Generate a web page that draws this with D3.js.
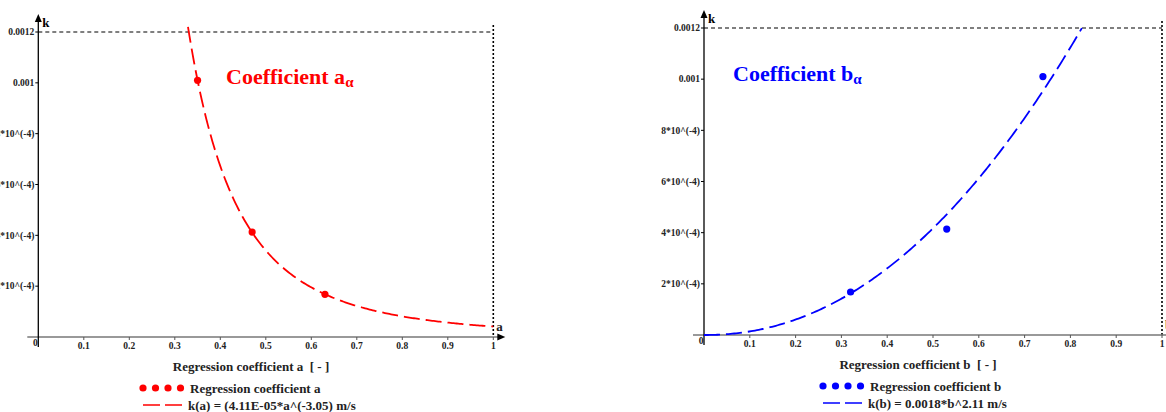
<!DOCTYPE html>
<html>
<head>
<meta charset="utf-8">
<script src="https://cdn.jsdelivr.net/npm/d3@7"></script>
<style>
  html, body { margin: 0; padding: 0; background: #fff; }
  svg { display: block; }
  text { font-family: "Liberation Serif", "Times New Roman", serif; font-weight: bold; white-space: pre; }
</style>
</head>
<body>
<svg id="chart" width="1166" height="412"></svg>
<script>
// Measured permeability k against the regression coefficients a and b
const aValues = [0.35, 0.47, 0.63];
const bValues = [0.32, 0.53, 0.74];
const kValues = [0.00101, 0.000413, 0.000168];
const kValuesB = [0.000168, 0.000414, 0.00101];

// Power-law fits quoted in the legends
const fitA = { coef: 4.11e-5, exp: -3.05 };
const fitB = { coef: 0.0018, exp: 2.11 };

const xTicks = [0.1, 0.2, 0.3, 0.4, 0.5, 0.6, 0.7, 0.8, 0.9, 1];
const xTickLabels = ["0.1", "0.2", "0.3", "0.4", "0.5", "0.6", "0.7", "0.8", "0.9", "1"];
const yTicks = [0.0002, 0.0004, 0.0006, 0.0008, 0.001, 0.0012];
const yTickLabels = ["2*10^(-4)", "4*10^(-4)", "6*10^(-4)", "8*10^(-4)", "0.001", "0.0012"];

const svg = d3.select("#chart");

function drawPanel(p) {
  const x = d3.scaleLinear().domain([0, 1]).range([p.left, p.right]);
  const y = d3.scaleLinear().domain([0, 0.0012]).range([p.bottom, p.top]);
  const g = svg.append("g");

  // reference frame at k = 0.0012 and x = 1
  g.append("line")
    .attr("x1", x(0)).attr("x2", x(1)).attr("y1", y(0.0012)).attr("y2", y(0.0012))
    .attr("stroke", "#000").attr("stroke-width", 1.2).attr("stroke-dasharray", "4,3");
  g.append("line")
    .attr("x1", x(1)).attr("x2", x(1)).attr("y1", y(0.0012) - 7).attr("y2", y(0))
    .attr("stroke", "#000").attr("stroke-width", 1.6).attr("stroke-dasharray", "2,2");

  // x axis (grey) with arrow
  g.append("line")
    .attr("x1", x(0) - 11).attr("x2", x(1) + 6).attr("y1", y(0)).attr("y2", y(0))
    .attr("stroke", "#777").attr("stroke-width", 1.5);
  g.append("path")
    .attr("d", `M${x(1) + 12},${y(0)} L${x(1) + 4},${y(0) - 3.5} L${x(1) + 4},${y(0) + 3.5} Z`)
    .attr("fill", "#000");
  g.selectAll(".xt").data(xTicks).enter().append("line")
    .attr("x1", d => x(d)).attr("x2", d => x(d))
    .attr("y1", y(0)).attr("y2", y(0) + 3)
    .attr("stroke", "#555").attr("stroke-width", 1);
  g.selectAll(".xl").data(xTicks).enter().append("text")
    .attr("x", d => x(d)).attr("y", y(0) + 12)
    .attr("text-anchor", "middle").attr("font-size", 9.5).attr("fill", "#222")
    .text((d, i) => xTickLabels[i]);
  g.append("text").attr("x", x(0) - 3).attr("y", y(0) + 9)
    .attr("text-anchor", "middle").attr("font-size", 9.5).attr("fill", "#222").text("0");
  g.append("text").attr("x", x(1) + 3).attr("y", y(0) - 6)
    .attr("font-size", 13).attr("fill", "#222").text(p.xName);

  // y axis (black) with arrow
  g.append("line")
    .attr("x1", x(0)).attr("x2", x(0)).attr("y1", y(0) + 10).attr("y2", y(0.0012) - 12)
    .attr("stroke", "#000").attr("stroke-width", 1.3);
  g.append("path")
    .attr("d", `M${x(0)},${y(0.0012) - 18} L${x(0) - 3.5},${y(0.0012) - 10} L${x(0) + 3.5},${y(0.0012) - 10} Z`)
    .attr("fill", "#000");
  g.selectAll(".yt").data(yTicks).enter().append("line")
    .attr("x1", x(0) - 3).attr("x2", x(0))
    .attr("y1", d => y(d)).attr("y2", d => y(d))
    .attr("stroke", "#000").attr("stroke-width", 1);
  g.selectAll(".yl").data(yTicks).enter().append("text")
    .attr("x", x(0) - 4).attr("y", d => y(d) + 3.3)
    .attr("text-anchor", "end").attr("font-size", 9.5).attr("fill", "#222")
    .text((d, i) => yTickLabels[i]);
  g.append("text").attr("x", x(0) + 4).attr("y", y(0.0012) - 5)
    .attr("font-size", 13).attr("fill", "#000").text("k");

  // fitted curve
  const curvePts = d3.range(p.xFrom, p.xTo + 1e-9, (p.xTo - p.xFrom) / 200)
    .map(v => [v, p.fit.coef * Math.pow(v, p.fit.exp)]);
  g.append("path")
    .datum(curvePts)
    .attr("d", d3.line().x(d => x(d[0])).y(d => y(d[1])))
    .attr("fill", "none").attr("stroke", p.color).attr("stroke-width", 1.8)
    .attr("stroke-dasharray", "16,6");

  // measured points
  g.selectAll(".pt").data(p.xs).enter().append("circle")
    .attr("cx", d => x(d)).attr("cy", (d, i) => y(p.ks[i]))
    .attr("r", 3.6).attr("fill", p.color);

  // panel title
  const t = g.append("text").attr("x", p.titleX).attr("y", p.titleY)
    .attr("font-size", 22).attr("fill", p.color);
  t.append("tspan").text(p.title);
  t.append("tspan").attr("font-size", 15).attr("dy", 3).text("\u03b1");

  // axis title
  g.append("text").attr("x", p.axisTitleX).attr("y", p.axisTitleY)
    .attr("text-anchor", "middle").attr("font-size", 13).attr("fill", "#222")
    .text(p.axisTitle);

  // legend
  const lx = p.legendX, ly = p.legendY;
  g.selectAll(".ld").data([0, 1, 2, 3]).enter().append("circle")
    .attr("cx", d => lx + d * 12.5).attr("cy", ly).attr("r", 3.6).attr("fill", p.color);
  g.append("text").attr("x", lx + 47).attr("y", ly + 4.5)
    .attr("font-size", 13).attr("fill", "#222").text(p.legend1);
  g.append("line")
    .attr("x1", lx).attr("x2", lx + 39).attr("y1", ly + 17).attr("y2", ly + 17)
    .attr("stroke", p.color).attr("stroke-width", 1.5).attr("stroke-dasharray", "17,5");
  g.append("text").attr("x", lx + 45).attr("y", ly + 21.5)
    .attr("font-size", 13).attr("fill", "#222").text(p.legend2);
}

drawPanel({
  left: 38.3, right: 493.3, top: 32, bottom: 337,
  xs: aValues, ks: kValues, fit: fitA, xFrom: 0.329, xTo: 1,
  color: "#ff0000", xName: "a",
  title: "Coefficient a", titleX: 226, titleY: 84,
  axisTitle: "Regression coefficient a  [ - ]", axisTitleX: 251, axisTitleY: 371,
  legendX: 143, legendY: 388,
  legend1: "Regression coefficient a",
  legend2: "k(a) = (4.11E-05*a^(-3.05) m/s"
});

drawPanel({
  left: 704, right: 1162, top: 28, bottom: 335,
  xs: bValues, ks: kValuesB, fit: fitB, xFrom: 0, xTo: 0.825,
  color: "#0000ff", xName: "b",
  title: "Coefficient b", titleX: 733, titleY: 81,
  axisTitle: "Regression coefficient b  [ - ]", axisTitleX: 918, axisTitleY: 369,
  legendX: 823, legendY: 386,
  legend1: "Regression coefficient b",
  legend2: "k(b) = 0.0018*b^2.11 m/s"
});
</script>
</body>
</html>
